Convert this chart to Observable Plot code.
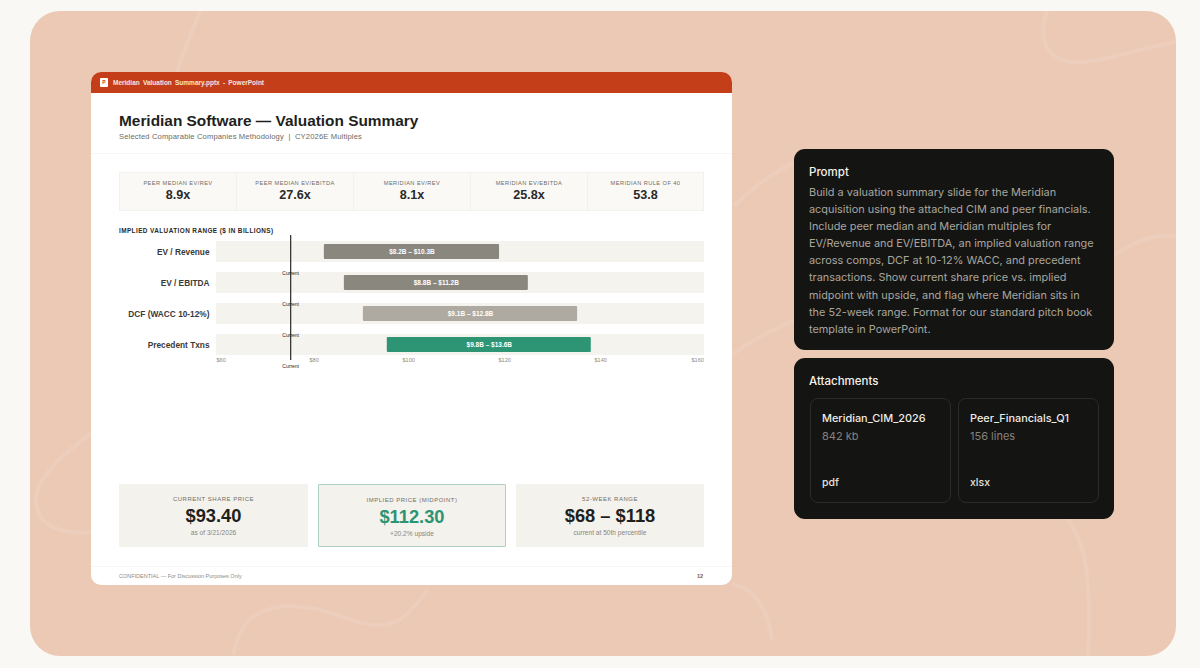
<!DOCTYPE html>
<html><head><meta charset="utf-8">
<script src="https://cdn.jsdelivr.net/npm/d3@7"></script>
<script src="https://cdn.jsdelivr.net/npm/@observablehq/plot@0.6"></script>
<style>
html,body{margin:0;padding:0;background:#faf8f4;width:1200px;height:668px;overflow:hidden}
body{position:relative;font-family:"Liberation Sans",Arial,sans-serif}
.abs{position:absolute;white-space:nowrap}
#panel{left:30px;top:11px;width:1146px;height:645px;border-radius:30px;background:#ebc9b5;overflow:hidden}
#squig{position:absolute;left:-30px;top:-11px}
#win{left:91px;top:72px;width:641px;height:513px;background:#fff;border-radius:10px;overflow:hidden}
#bar{left:0;top:0;width:641px;height:21px;background:#c43e1a}
.kpi{position:absolute;top:172px;height:39px;text-align:center;background:#faf9f6;border:1px solid #f3f1ed;box-sizing:border-box}
.kpi .l{position:absolute;left:0;right:0;top:7px;font-size:5.7px;letter-spacing:.42px;color:#6f6d67;text-transform:uppercase}
.kpi .v{position:absolute;left:0;right:0;top:15px;font-size:12.6px;font-weight:700;color:#2a2a28}
.card{position:absolute;top:484px;height:63px;text-align:center;background:#f4f2ec;box-sizing:border-box;border-radius:1px}
.card .l{position:absolute;left:0;right:0;top:12px;font-size:6px;letter-spacing:.5px;color:#6f6d67;text-transform:uppercase}
.card .v{position:absolute;left:0;right:0;top:21px;font-size:18.3px;font-weight:700;color:#1f1f1d}
.card .s{position:absolute;left:0;right:0;top:45px;font-size:6.6px;color:#88867f}
.dark{position:absolute;left:794px;width:320px;background:#141413;border-radius:11px;font-family:Inter,sans-serif}
.fcard{position:absolute;top:398px;height:105px;border:1px solid #2b2b29;border-radius:8px;box-sizing:border-box;font-family:Inter,sans-serif}
</style></head><body>
<div id="panel" class="abs">
<svg id="squig" width="1200" height="668" fill="none" stroke="#f2dccf" stroke-width="4" stroke-opacity=".3">
<path d="M200 11C192 32 184 50 176 74"/>
<path d="M1047 11C1040 32 1042 52 1062 60C1090 68 1130 50 1176 42"/>
<path d="M1115 255C1135 240 1155 234 1176 236"/>
<path d="M734 206C755 185 775 172 795 162"/>
<path d="M733 354C755 338 775 328 795 320"/>
<path d="M92 433C60 455 36 480 36 500C36 525 60 535 92 532"/>
<path d="M233 655C240 625 250 610 285 606C325 604 355 628 385 625C405 622 415 605 428 590"/>
<path d="M732 584C760 590 768 615 772 640"/>
<path d="M1065 515C1085 540 1092 575 1088 656"/>
</svg></div>

<div id="win" class="abs">
<div id="bar" class="abs"></div>
<div class="abs" style="left:9px;top:6px;width:8px;height:9px;background:#fff;border-radius:1px;color:#c43e1a;font-size:5px;font-weight:700;line-height:9px;text-align:center">P</div>
<div id="fileName" class="abs" style="left:22px;top:7px;font-size:6.5px;font-weight:700;color:#f8e4da;word-spacing:1.4px"></div>
<div class="abs" style="left:0;top:81px;width:641px;height:1px;background:#f7f6f2"></div>
<div class="abs" style="left:0;top:494px;width:641px;height:1px;background:#f7f6f2"></div>
</div>

<div id="title" class="abs" style="left:119px;top:112px;font-size:15.4px;font-weight:700;color:#1f1f1d"></div>
<div id="sub" class="abs" style="left:119px;top:132px;font-size:7.6px;color:#6c6a64;letter-spacing:.14px"></div>
<div id="kpis"></div>
<div id="chartTitle" class="abs" style="left:119px;top:227px;font-size:6.4px;font-weight:700;letter-spacing:.42px;color:#2a2a28"></div>
<div id="chart" class="abs" style="left:119px;top:235px"></div>
<div id="cards"></div>
<div id="foot" class="abs" style="left:119px;top:573px;font-size:5.5px;color:#8d8b84"></div>
<div id="page" class="abs" style="left:697px;top:573px;font-size:5.6px;font-weight:700;color:#66645e"></div>

<div class="dark" style="top:149px;height:201px">
<div class="abs" style="left:15px;top:16px;font-size:11.5px;font-weight:500;color:#f4f2ec">Prompt</div>
<div id="prompt" class="abs" style="left:15px;top:35px;font-size:10.9px;line-height:17.1px;color:#a9a69e"></div>
</div>
<div class="dark" style="top:358px;height:161px">
<div class="abs" style="left:15px;top:16px;font-size:11.5px;font-weight:500;color:#f4f2ec">Attachments</div>
</div>
<div id="files"></div>

<script>
// Text
const fileName = "Meridian Valuation Summary.pptx - PowerPoint";
const title = "Meridian Software — Valuation Summary";
const subtitle = "Selected Comparable Companies Methodology  |  CY2026E Multiples";
const chartTitle = "IMPLIED VALUATION RANGE ($ IN BILLIONS)";
const footer = "CONFIDENTIAL — For Discussion Purposes Only";
const pageNo = "12";

// KPI strip
const kpiLabels = ["Peer Median EV/Rev","Peer Median EV/EBITDA","Meridian EV/Rev","Meridian EV/EBITDA","Meridian Rule of 40"];
const kpiValues = ["8.9x","27.6x","8.1x","25.8x","53.8"];

// Range chart
const methods = ["EV / Revenue","EV / EBITDA","DCF (WACC 10-12%)","Precedent Txns"];
const lows = [82.1,86.2,90.1,95.0];
const highs = [118.0,123.9,134.0,136.8];
const rangeLabels = ["$8.2B – $10.3B","$8.8B – $11.2B","$9.1B – $12.8B","$9.8B – $13.6B"];
const barColors = ["#8a877f","#8a877f","#aeaaa1","#2d9474"];
const axisTicks = [60,80,100,120,140,160];
const tickNudges = [0,-4.6,-9.2,-10.8,-12.4,-13];
const currentMark = 75.2;

// Bottom cards
const cardLabels = ["Current Share Price","Implied Price (Midpoint)","52-Week Range"];
const cardValues = ["$93.40","$112.30","$68 – $118"];
const cardNotes = ["as of 3/21/2026","+20.2% upside","current at 50th percentile"];

// Side panel
const promptLines = [
"Build a valuation summary slide for the Meridian",
"acquisition using the attached CIM and peer financials.",
"Include peer median and Meridian multiples for",
"EV/Revenue and EV/EBITDA, an implied valuation range",
"across comps, DCF at 10-12% WACC, and precedent",
"transactions. Show current share price vs. implied",
"midpoint with upside, and flag where Meridian sits in",
"the 52-week range. Format for our standard pitch book",
"template in PowerPoint."];
const fileNames = ["Meridian_CIM_2026","Peer_Financials_Q1"];
const fileSizes = ["842 kb","156 lines"];
const fileTypes = ["pdf","xlsx"];

const $ = id => document.getElementById(id);
$("fileName").textContent = fileName;
$("title").textContent = title;
$("sub").style.whiteSpace = "pre";
$("sub").textContent = subtitle;
$("chartTitle").textContent = chartTitle;
$("foot").textContent = footer;
$("page").textContent = pageNo;
$("prompt").innerHTML = promptLines.join("<br>");

const kpiLeft = [119,236,353,470,587], kpiW = [118,118,118,118,117];
$("kpis").innerHTML = kpiLabels.map((l,i)=>`<div class="kpi" style="left:${kpiLeft[i]}px;width:${kpiW[i]}px"><div class="l">${l}</div><div class="v">${kpiValues[i]}</div></div>`).join("");

const cardLeft = [119,318,516], cardW = [189,188,188];
$("cards").innerHTML = cardLabels.map((l,i)=>`<div class="card" style="left:${cardLeft[i]}px;width:${cardW[i]}px;${i==1?"border:1px solid #a9d0c2;":""}"><div class="l">${l}</div><div class="v" style="${i==1?"color:#2d9474;":""}">${cardValues[i]}</div><div class="s">${cardNotes[i]}</div></div>`).join("");

const fileLeft = [810,958], fileW = [141,141];
$("files").innerHTML = fileNames.map((n,i)=>`<div class="fcard" style="left:${fileLeft[i]}px;width:${fileW[i]}px">
<div class="abs" style="left:11px;top:12px;font-size:10.9px;font-weight:500;color:#eeece6">${n}</div>
<div class="abs" style="left:11px;top:30px;font-size:11px;color:#85827b">${fileSizes[i]}</div>
<div class="abs" style="left:11px;top:77px;font-size:10.5px;font-weight:500;color:#e4e2dc">${fileTypes[i]}</div></div>`).join("");

const rows = methods.map((m,i)=>({method:m, low:lows[i], high:highs[i], label:rangeLabels[i], color:barColors[i]}));
const lo = axisTicks[0], hi = axisTicks[axisTicks.length-1];

const chart = Plot.plot({
  width: 586, height: 140,
  marginLeft: 97, marginRight: 1, marginTop: 0, marginBottom: 15,
  style: {background:"transparent", fontFamily:'"Liberation Sans",Arial,sans-serif', overflow:"visible"},
  x: {domain:[lo,hi], label:null},
  y: {domain:methods, label:null, padding:0},
  marks: [
    Plot.barX(rows, {y:"method", x1:()=>lo, x2:()=>hi, fill:"#f5f3ed", insetTop:5, insetBottom:5}),
    Plot.barX(rows, {y:"method", x1:"low", x2:"high", fill:"color", insetTop:8, insetBottom:8, rx:1}),
    Plot.text(rows, {y:"method", x:d=>(d.low+d.high)/2, text:"label", fill:"#fff", fontSize:6.5, fontWeight:700, letterSpacing:.1}),
    Plot.ruleX([currentMark], {stroke:"#2a2a28", strokeWidth:1.2}),
    Plot.text(rows, {y:"method", x:()=>currentMark, text:()=>"Current", dy:21, fontSize:5, fontWeight:400, fill:"#1f1f1d"}),
    Plot.axisY({anchor:"left", tickSize:0, tickPadding:7, label:null, fontSize:8.3, fontWeight:700, fill:"#3a3a38", letterSpacing:.15}),
    ...axisTicks.map((t,i)=>Plot.axisX([t], {anchor:"bottom", tickSize:0, tickPadding:-2, label:null, tickFormat:d=>"$"+d, textAnchor:"start", dx:tickNudges[i], fontSize:5.6, fill:"#8d8b84"}))
  ]
});
$("chart").appendChild(chart);
</script>
</body></html>
